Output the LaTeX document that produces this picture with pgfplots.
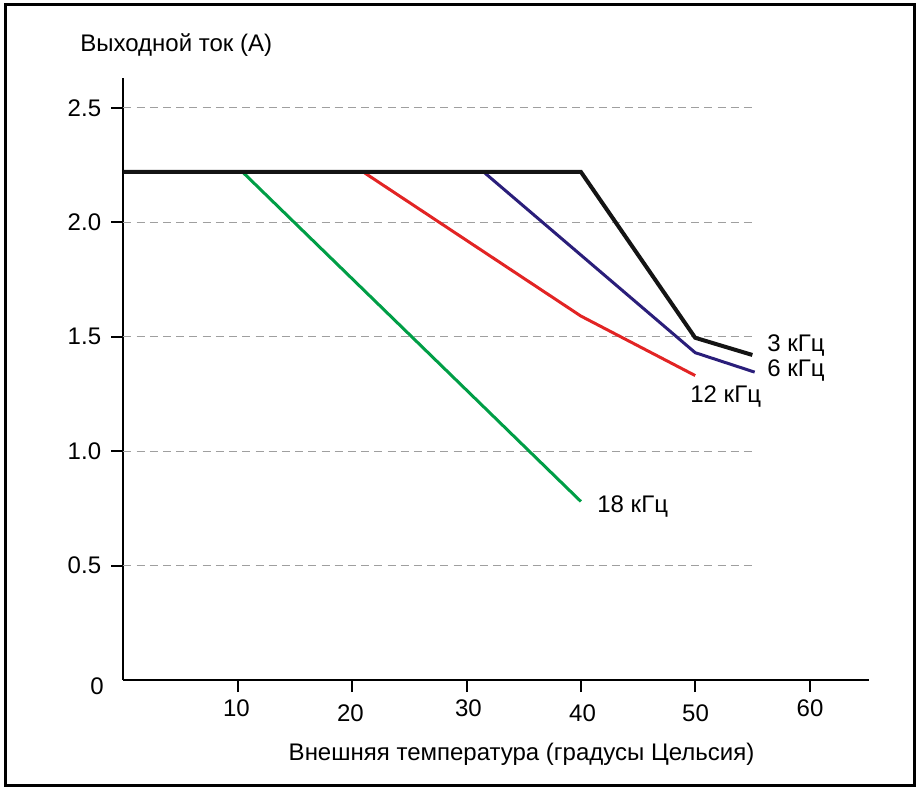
\documentclass[border=0pt]{standalone}
\usepackage{pgfplots}
\pgfplotsset{compat=1.18}
\usepackage{fontspec}
\setmainfont{Liberation Sans}
\definecolor{cblack}{RGB}{20,20,20}
\definecolor{cnavy}{RGB}{42,30,122}
\definecolor{cred}{RGB}{226,36,36}
\definecolor{cgreen}{RGB}{0,158,70}
\begin{document}
\fontsize{12}{14.4}\selectfont
\begin{tikzpicture}[x=1pt,y=1pt]
\useasboundingbox (-61.75,-53.5) rectangle (396.25,340);
\begin{axis}[at={(0,0)}, anchor=origin, scale only axis,
  width=372.75pt, height=301pt,
  xmin=0, xmax=65.2, ymin=0, ymax=2.63,
  axis x line=bottom, axis y line=left,
  axis line style={-, line width=1pt, black},
  xtick={10,20,30,40,50,60}, xticklabels={},
  ytick={0.5,1.0,1.5,2.0,2.5}, yticklabels={0.5,1.0,1.5,2.0,2.5},
  tick style={black, line width=1pt},
  tick align=outside, major tick length=6pt,
  yticklabel style={font=\fontsize{12}{14.4}\selectfont, anchor=east, xshift=-1pt},
  clip=false]
\addplot[gray!75, line width=0.5pt, dash pattern=on 4pt off 2.6pt] coordinates {(0,0.5) (55,0.5)};
\addplot[gray!75, line width=0.5pt, dash pattern=on 4pt off 2.6pt] coordinates {(0,1.0) (55,1.0)};
\addplot[gray!75, line width=0.5pt, dash pattern=on 4pt off 2.6pt] coordinates {(0,1.5) (55,1.5)};
\addplot[gray!75, line width=0.5pt, dash pattern=on 4pt off 2.6pt] coordinates {(0,2.0) (55,2.0)};
\addplot[gray!75, line width=0.5pt, dash pattern=on 4pt off 2.6pt] coordinates {(0,2.5) (55,2.5)};
% 18 kHz
\addplot[cgreen, line width=1.5pt] coordinates {(10.5,2.215) (40,0.78)};
% 12 kHz
\addplot[cred, line width=1.5pt] coordinates {(21.1,2.215) (40,1.59) (50,1.33)};
% 6 kHz
\addplot[cnavy, line width=1.5pt] coordinates {(31.6,2.215) (50,1.43) (55.2,1.345)};
% 3 kHz
\addplot[cblack, line width=2pt] coordinates {(0,2.22) (40,2.22) (50,1.495) (55,1.42)};
\end{axis}
\node[anchor=base west, inner sep=0pt] at (321.75,164) {3 кГц};
\node[anchor=base west, inner sep=0pt] at (321.75,151.5) {6 кГц};
\node[anchor=base west, inner sep=0pt] at (283.25,138.5) {12 кГц};
\node[anchor=base west, inner sep=0pt] at (236.75,83.5) {18 кГц};
\node[inner sep=0pt] at (-13.25,-3) {0};
\node[anchor=base, inner sep=0pt] at (56.5,-18.5) {10};
\node[anchor=base, inner sep=0pt] at (113.5,-21) {20};
\node[anchor=base, inner sep=0pt] at (172.5,-18.5) {30};
\node[anchor=base, inner sep=0pt] at (229.5,-21) {40};
\node[anchor=base, inner sep=0pt] at (286,-21) {50};
\node[anchor=base, inner sep=0pt] at (343.25,-18.5) {60};
\node[anchor=base west, inner sep=0pt] at (-21.75,314) {Выходной ток (A)};
\node[anchor=base, inner sep=0pt] at (199,-40.25) {Внешняя температура (градусы Цельсия)};
\draw[line width=1.5pt] (-58.75,-52.75) rectangle (395.25,337.5);
\end{tikzpicture}
\end{document}
